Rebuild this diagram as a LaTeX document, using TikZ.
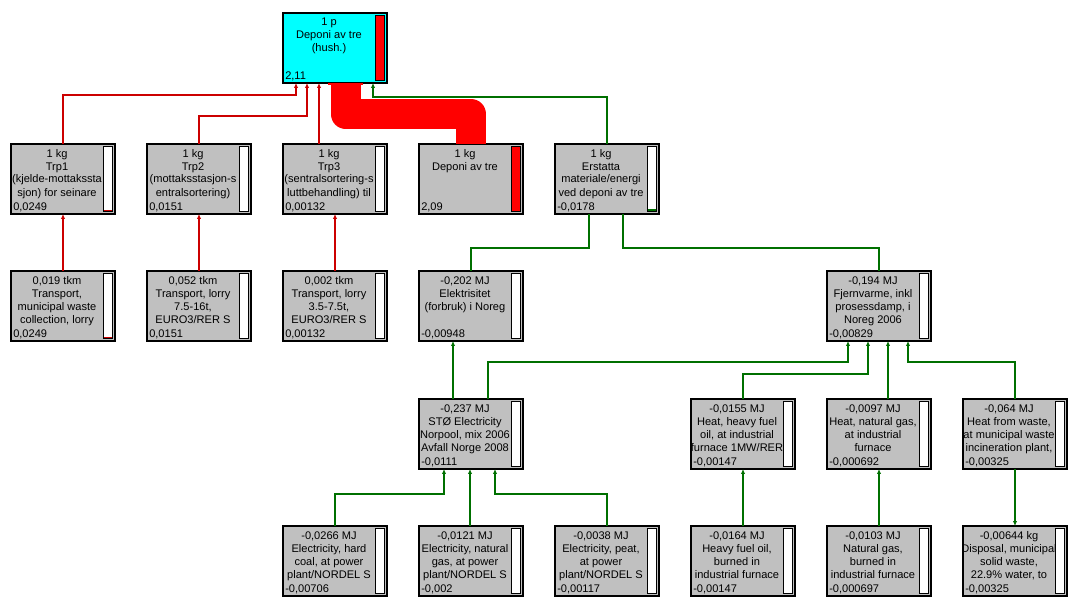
\documentclass[tikz,border=0pt]{standalone}
\usepackage{fontspec}
\setmainfont{Liberation Sans}
\usetikzlibrary{calc,arrows.meta}
\definecolor{pgray}{RGB}{192,192,192}
\definecolor{pcyan}{RGB}{0,255,255}
\definecolor{pred}{RGB}{255,0,0}
\definecolor{lred}{RGB}{204,0,0}
\definecolor{lgreen}{RGB}{0,112,0}
\tikzset{
 pbox/.style={draw=black, line width=0.9pt, minimum width=78pt, minimum height=52.5pt, inner sep=0pt, outer sep=0pt},
 pbar/.style={draw=black, line width=0.7pt, minimum width=7pt, minimum height=49pt, inner sep=0pt, outer sep=0pt},
 ptext/.style={anchor=base, inner sep=0pt, font=\fontsize{8.3}{9.75}\selectfont},
 pval/.style={anchor=base west, inner sep=0pt, font=\fontsize{8.3}{9.75}\selectfont},
 rl/.style={draw=lred, line width=0.8pt},
 gl/.style={draw=lgreen, line width=0.8pt},
 tip/.style={-{Latex[length=3.6pt,width=3.2pt]}},
 flow/.style={draw=pred, line width=22.5pt, line join=round, line cap=butt},
}
% #1 name, #2 left, #3 top, #4 lines, #5 value, #6 box fill, #7 bar fill
\newcommand\pnode[7]{%
  \node[pbox, fill=#6] (#1) at (#2+52,#3+35) {};
  \node[pbar, fill=#7] (#1-bar) at (#2+97,#3+35) {};
  \node[ptext] (#1-txt) at (#2+46,#3+13) {\begin{tabular}[t]{@{}c@{}}#4\end{tabular}};
  \node[pval] (#1-val) at (#2+2,#3+66.5) {#5};
}
\begin{document}
\begin{tikzpicture}[x=0.75pt,y=-0.75pt]
\fill[white] (0,0) rectangle (1083,610);
\useasboundingbox (0,0) rectangle (1083,610);

% row 0
\pnode{top}{283}{13}{1 p\\Deponi av tre\\(hush.)}{2,11}{pcyan}{pred}
% row 1
\pnode{trp1}{11}{144}{1 kg\\Trp1\\(kjelde-mottakssta\\sjon) for seinare}{0,0249}{pgray}{white}
\pnode{trp2}{147}{144}{1 kg\\Trp2\\(mottaksstasjon-s\\entralsortering)}{0,0151}{pgray}{white}
\pnode{trp3}{283}{144}{1 kg\\Trp3\\(sentralsortering-s\\luttbehandling) til}{0,00132}{pgray}{white}
\pnode{dep}{419}{144}{1 kg\\Deponi av tre}{2,09}{pgray}{pred}
\pnode{ers}{555}{144}{1 kg\\Erstatta\\materiale/energi\\ved deponi av tre}{-0,0178}{pgray}{white}
% row 2
\pnode{tr1}{11}{271}{0,019 tkm\\Transport,\\municipal waste\\collection, lorry}{0,0249}{pgray}{white}
\pnode{tr2}{147}{271}{0,052 tkm\\Transport, lorry\\7.5-16t,\\EURO3/RER S}{0,0151}{pgray}{white}
\pnode{tr3}{283}{271}{0,002 tkm\\Transport, lorry\\3.5-7.5t,\\EURO3/RER S}{0,00132}{pgray}{white}
\pnode{el}{419}{271}{-0,202 MJ\\Elektrisitet\\(forbruk) i Noreg}{-0,00948}{pgray}{white}
\pnode{fj}{827}{271}{-0,194 MJ\\Fjernvarme, inkl\\prosessdamp, i\\Noreg 2006}{-0,00829}{pgray}{white}
% row 3
\pnode{sto}{419}{399}{-0,237 MJ\\STØ Electricity\\Norpool, mix 2006\\Avfall Norge 2008}{-0,0111}{pgray}{white}
\pnode{hfo}{691}{399}{-0,0155 MJ\\Heat, heavy fuel\\oil, at industrial\\furnace 1MW/RER}{-0,00147}{pgray}{white}
\pnode{hng}{827}{399}{-0,0097 MJ\\Heat, natural gas,\\at industrial\\furnace}{-0,000692}{pgray}{white}
\pnode{hw}{963}{399}{-0,064 MJ\\Heat from waste,\\at municipal waste\\incineration plant,}{-0,00325}{pgray}{white}
% row 4
\pnode{hc}{283}{526}{-0,0266 MJ\\Electricity, hard\\coal, at power\\plant/NORDEL S}{-0,00706}{pgray}{white}
\pnode{ng}{419}{526}{-0,0121 MJ\\Electricity, natural\\gas, at power\\plant/NORDEL S}{-0,002}{pgray}{white}
\pnode{pt}{555}{526}{-0,0038 MJ\\Electricity, peat,\\at power\\plant/NORDEL S}{-0,00117}{pgray}{white}
\pnode{hfb}{691}{526}{-0,0164 MJ\\Heavy fuel oil,\\burned in\\industrial furnace}{-0,00147}{pgray}{white}
\pnode{ngb}{827}{526}{-0,0103 MJ\\Natural gas,\\burned in\\industrial furnace}{-0,000697}{pgray}{white}
\pnode{disp}{963}{526}{-0,00644 kg\\Disposal, municipal\\solid waste,\\22.9\% water, to}{-0,00325}{pgray}{white}

% small slivers in bars
\fill[lred] (104,209.5) rectangle (112,211);
\fill[lred] (104,336.5) rectangle (112,338);
\fill[lgreen] (648,209) rectangle (656,211);

% thick flow
\draw[flow] (dep.north) |- ($(top.south west)+(62.5,31)$) -- ($(top.south west)+(62.5,0)$);
\fill[pred] ($(top.south west)+(45,0.5)$) rectangle ($(top.south west)+(80,2.5)$);

% red connectors to top
\draw[rl, tip] (trp1.north) |- ($(top.south west)+(13,12)$) -- ($(top.south west)+(13,0)$);
\draw[rl, tip] (trp2.north) |- ($(top.south west)+(24,33)$) -- ($(top.south west)+(24,0)$);
\draw[rl, tip] ($(trp3.north west)+(36,0)$) -- ($(top.south west)+(36,0)$);
\draw[rl, tip] (tr1.north) -- (trp1.south);
\draw[rl, tip] (tr2.north) -- (trp2.south);
\draw[rl, tip] (tr3.north) -- (trp3.south);

% green connectors
\draw[gl, tip] (ers.north) |- ($(top.south west)+(90,14)$) -- ($(top.south west)+(90,0)$);
\draw[gl] ($(ers.south west)+(34,0)$) |- ($(el.north)+(0,-23)$) -- (el.north);
\draw[gl] ($(ers.south west)+(68,0)$) |- ($(fj.north)+(0,-23)$) -- (fj.north);
\draw[gl, tip] ($(sto.north west)+(34,0)$) -- ($(el.south west)+(34,0)$);
\draw[gl, tip] ($(sto.north west)+(69,0)$) |- ($(fj.south west)+(21,21)$) -- ($(fj.south west)+(21,0)$);
\draw[gl, tip] (hfo.north) |- ($(fj.south west)+(41,33)$) -- ($(fj.south west)+(41,0)$);
\draw[gl, tip] ($(hng.north west)+(61,0)$) -- ($(fj.south west)+(61,0)$);
\draw[gl, tip] (hw.north) |- ($(fj.south west)+(81,21)$) -- ($(fj.south west)+(81,0)$);
\draw[gl, tip] (hc.north) |- ($(sto.south west)+(25,25)$) -- ($(sto.south west)+(25,0)$);
\draw[gl, tip] ($(ng.north west)+(51,0)$) -- ($(sto.south west)+(51,0)$);
\draw[gl, tip] (pt.north) |- ($(sto.south west)+(76,25)$) -- ($(sto.south west)+(76,0)$);
\draw[gl, tip] (hfb.north) -- (hfo.south);
\draw[gl, tip] (ngb.north) -- (hng.south);
\draw[gl, tip] (hw.south) -- (disp.north);
\end{tikzpicture}
\end{document}
